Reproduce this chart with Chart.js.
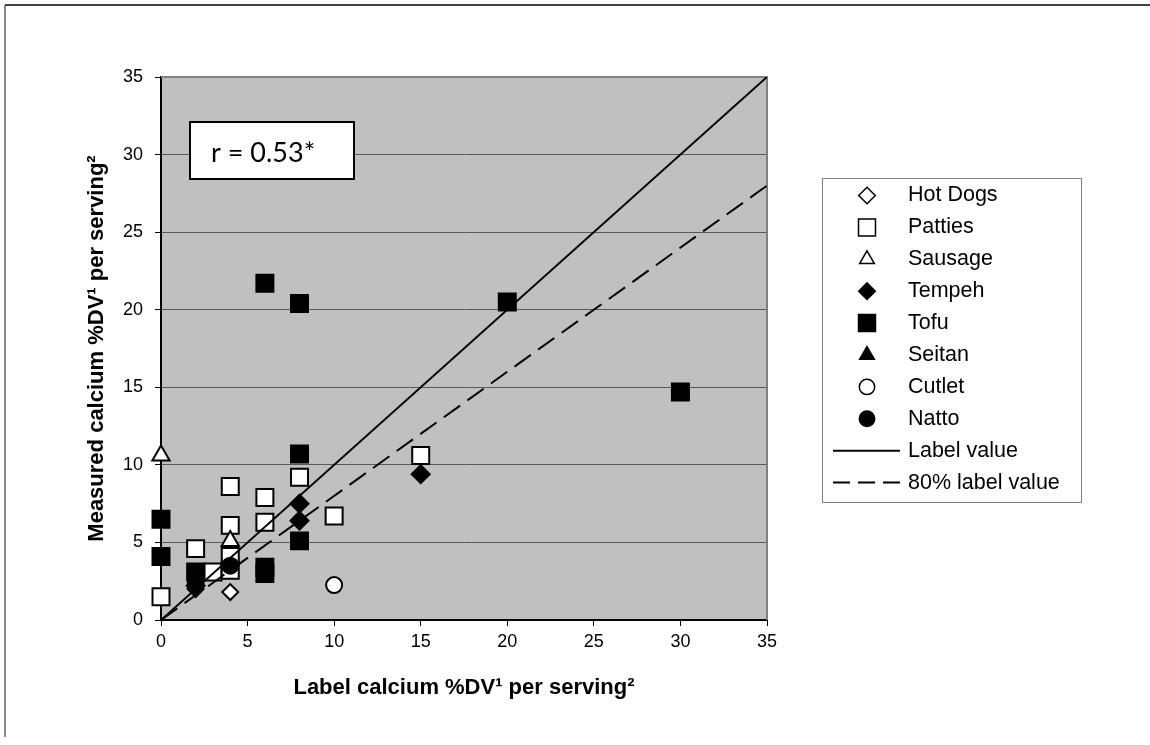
<!DOCTYPE html>
<html>
<head>
<meta charset="utf-8">
<script src="https://cdn.jsdelivr.net/npm/chart.js@4.4.0/dist/chart.umd.min.js"></script>
<style>
    html, body { margin: 0; padding: 0; background: #fff; }
    #wrap { width: 1150px; height: 745px; }
</style>
</head>
<body>
<div id="wrap"><canvas id="calciumChart" width="1150" height="745"></canvas></div>
<script>
// [label %DV, measured %DV]
const hotDogs = [[2, 2.0], [4, 1.8]];
const patties = [[0, 1.5], [2, 4.6], [3, 3.1], [4, 3.2], [4, 4.1], [4, 6.1], [4, 8.6],
                 [6, 6.3], [6, 7.9], [8, 9.2], [10, 6.7], [15, 10.6]];
const sausage = [[0, 10.6], [4, 5.1]];
const tempeh = [[2, 2.2], [8, 6.4], [8, 7.5], [15, 9.4]];
const tofu = [[0, 4.1], [0, 6.5], [2, 3.1], [6, 3.0], [6, 3.4], [8, 5.1], [8, 10.7],
              [6, 21.7], [8, 20.4], [20, 20.5], [30, 14.7]];
const seitan = [];
const cutlet = [[10, 2.25]];
const natto = [[2, 2.3], [4, 3.5]];

const labelLine = [[0, 0], [35, 35]];
const eightyLine = [[0, 0], [35, 28]];

const seriesNames = ['Hot Dogs', 'Patties', 'Sausage', 'Tempeh', 'Tofu', 'Seitan', 'Cutlet', 'Natto'];
const lineNames = ['Label value', '80% label value'];
const axisMin = 0;
const axisMax = 35;
const axisStep = 5;
const xTitle = 'Label calcium %DV\u00B9 per serving\u00B2';
const yTitle = 'Measured calcium %DV\u00B9 per serving\u00B2';
const rText = 'r = 0.53*';

const toPoints = arr => arr.map(p => ({ x: p[0], y: p[1] }));

// marker look per series (same order as seriesNames)
const markers = [
    { style: 'rectRot', radius: 8, legendRadius: 8.3, fill: '#fff' },
    { style: 'rect', radius: 12, legendRadius: 12, fill: '#fff' },
    { style: 'triangle', radius: 10, legendRadius: 8.5, fill: '#fff' },
    { style: 'rectRot', radius: 9, legendRadius: 8.3, fill: '#000' },
    { style: 'rect', radius: 12, legendRadius: 12, fill: '#000' },
    { style: 'triangle', radius: 10, legendRadius: 8.5, fill: '#000' },
    { style: 'circle', radius: 8, legendRadius: 7.7, fill: '#fff' },
    { style: 'circle', radius: 8, legendRadius: 7.7, fill: '#000' }
];
const seriesData = [hotDogs, patties, sausage, tempeh, tofu, seitan, cutlet, natto];

const datasets = seriesData.map((d, i) => ({
    type: 'scatter',
    label: seriesNames[i],
    data: toPoints(d),
    pointStyle: markers[i].style,
    pointRadius: markers[i].radius,
    pointHoverRadius: markers[i].radius,
    pointBackgroundColor: markers[i].fill,
    pointBorderColor: '#000',
    pointBorderWidth: 2,
    clip: false,
    order: 10 - i
}));

datasets.push({
    type: 'line',
    label: lineNames[0],
    data: toPoints(labelLine),
    borderColor: '#000',
    borderWidth: 2,
    pointRadius: 0,
    fill: false,
    order: 1
});
datasets.push({
    type: 'line',
    label: lineNames[1],
    data: toPoints(eightyLine),
    borderColor: '#000',
    borderWidth: 2,
    borderDash: [20, 9],
    pointRadius: 0,
    fill: false,
    order: 1
});

const frame = {
    id: 'frame',
    beforeDraw(chart) {
        const ctx = chart.ctx;
        const a = chart.chartArea;
        ctx.save();
        ctx.fillStyle = '#fff';
        ctx.fillRect(0, 0, chart.width, chart.height);
        // outer border (only top and left show)
        ctx.strokeStyle = '#8a8a8a';
        ctx.lineWidth = 2;
        ctx.beginPath();
        ctx.moveTo(5, 737);
        ctx.lineTo(5, 5);
        ctx.stroke();
        ctx.strokeStyle = '#404040';
        ctx.beginPath();
        ctx.moveTo(5, 5);
        ctx.lineTo(chart.width, 5);
        ctx.stroke();
        // plot background
        ctx.fillStyle = '#c0c0c0';
        ctx.fillRect(a.left, a.top, a.right - a.left, a.bottom - a.top);
        ctx.restore();
    },
    beforeDatasetsDraw(chart) {
        const ctx = chart.ctx;
        const a = chart.chartArea;
        ctx.save();
        ctx.strokeStyle = '#808080';
        ctx.lineWidth = 2;
        ctx.beginPath();
        ctx.moveTo(a.left, a.top);
        ctx.lineTo(a.right, a.top);
        ctx.lineTo(a.right, a.bottom);
        ctx.stroke();
        ctx.restore();
    },
    afterDraw(chart) {
        const ctx = chart.ctx;
        ctx.save();
        // r box
        ctx.fillStyle = '#fff';
        ctx.fillRect(190, 122, 164, 57);
        ctx.strokeStyle = '#000';
        ctx.lineWidth = 2;
        ctx.strokeRect(190, 122, 164, 57);
        ctx.fillStyle = '#000';
        ctx.font = '27px Lato, "Open Sans", sans-serif';
        ctx.textBaseline = 'alphabetic';
        ctx.fillText(rText, 211, 162);

        // legend
        const lx = 822, ly = 178, lw = 259, lh = 324;
        ctx.fillStyle = '#fff';
        ctx.fillRect(lx, ly, lw, lh);
        ctx.strokeStyle = '#808080';
        ctx.lineWidth = 1;
        ctx.strokeRect(lx + 0.5, ly + 0.5, lw, lh);
        ctx.font = '21.5px "Liberation Sans", Arial, sans-serif';
        ctx.textBaseline = 'middle';
        const rowH = 31.9;
        const symX = 867, textX = 908;
        seriesNames.forEach((name, i) => {
            const y = 195.5 + i * rowH;
            const m = markers[i];
            ctx.fillStyle = m.fill;
            ctx.strokeStyle = '#000';
            ctx.lineWidth = 1.5;
            Chart.helpers.drawPoint(ctx, {
                pointStyle: m.style, radius: m.legendRadius, rotation: 0, borderWidth: 1.5
            }, symX, y);
            ctx.fillStyle = '#000';
            ctx.fillText(name, textX, y);
        });
        lineNames.forEach((name, j) => {
            const y = 195.5 + (seriesNames.length + j) * rowH;
            ctx.strokeStyle = '#000';
            ctx.lineWidth = 2;
            ctx.setLineDash(j === 0 ? [] : [17, 8]);
            ctx.beginPath();
            ctx.moveTo(833, y);
            ctx.lineTo(900, y);
            ctx.stroke();
            ctx.setLineDash([]);
            ctx.fillStyle = '#000';
            ctx.fillText(name, textX, y);
        });
        ctx.restore();
    }
};

const tickFont = { family: '"Liberation Sans", Arial, sans-serif', size: 18 };
const titleFont = { family: '"Liberation Sans", Arial, sans-serif', size: 22, weight: 'bold' };

const ctx = document.getElementById('calciumChart').getContext('2d');
const chart = new Chart(ctx, {
    type: 'scatter',
    data: { datasets: datasets },
    options: {
        responsive: false,
        animation: false,
        events: [],
        layout: { padding: { top: 77, right: 383, bottom: 0, left: 0 } },
        plugins: {
            legend: { display: false },
            tooltip: { enabled: false }
        },
        scales: {
            x: {
                type: 'linear',
                min: axisMin,
                max: axisMax,
                ticks: { stepSize: axisStep, color: '#000', font: tickFont, padding: 5 },
                grid: { drawOnChartArea: false, drawTicks: true, tickLength: 6, tickColor: '#000' },
                border: { color: '#000', width: 2 },
                title: { display: true, text: xTitle, color: '#000', font: titleFont, padding: { top: 0, bottom: 44 } },
                afterFit(scale) { scale.height = 125; }
            },
            y: {
                type: 'linear',
                min: axisMin,
                max: axisMax,
                ticks: { stepSize: axisStep, color: '#000', font: tickFont, padding: 12 },
                grid: { color: '#595959', lineWidth: 1, drawTicks: true, tickLength: 6, tickColor: '#000' },
                border: { color: '#000', width: 2 },
                title: { display: true, text: yTitle, color: '#000', font: titleFont, padding: { top: 84, bottom: 0 } },
                afterFit(scale) { scale.width = 161; }
            }
        }
    },
    plugins: [frame]
});
</script>
</body>
</html>
